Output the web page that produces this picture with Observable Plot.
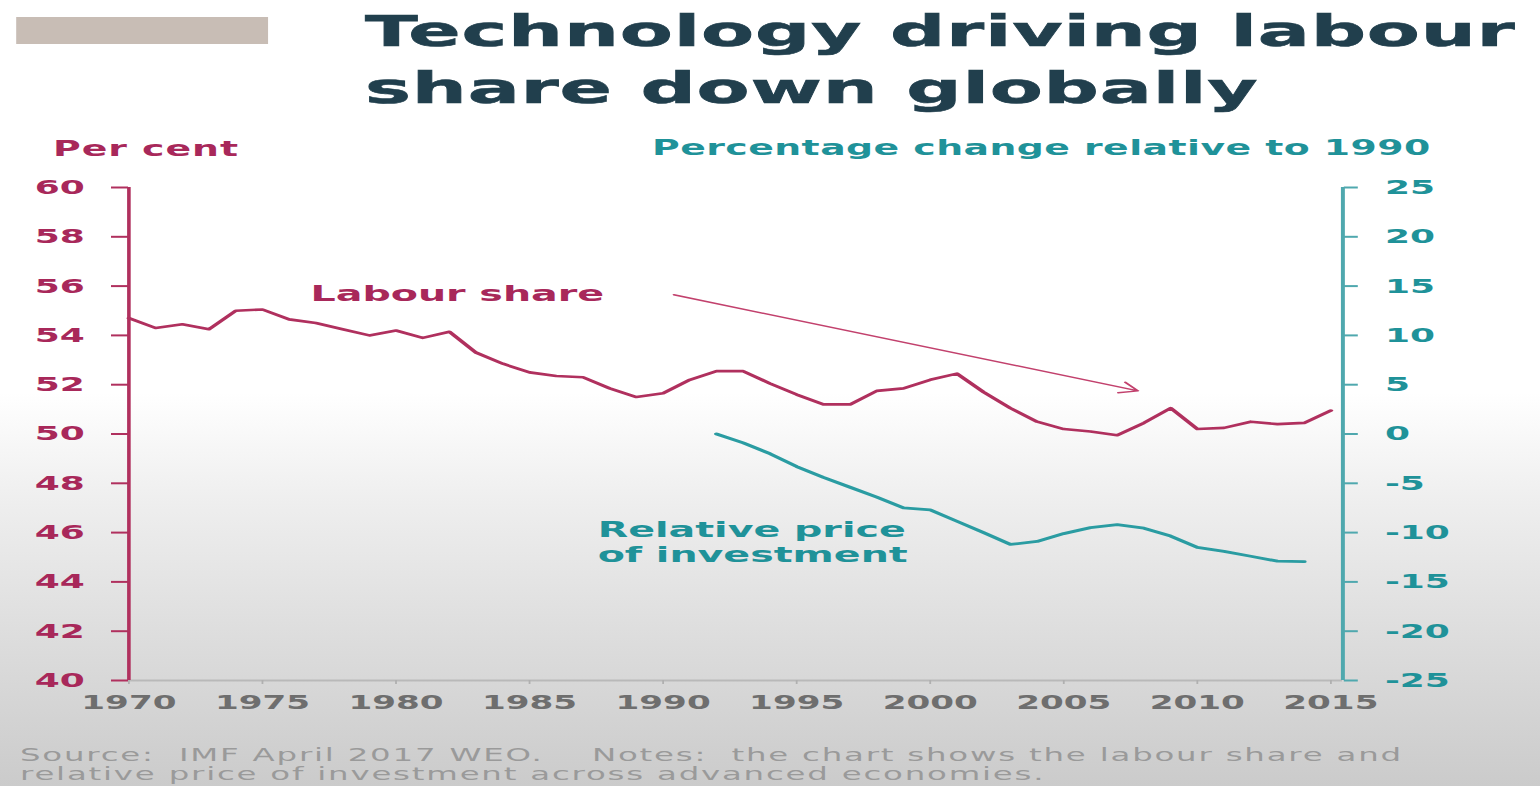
<!DOCTYPE html>
<html>
<head>
<meta charset="utf-8">
<script src="https://cdn.jsdelivr.net/npm/d3@7"></script>
<script src="https://cdn.jsdelivr.net/npm/@observablehq/plot@0.6"></script>
<style>
  html, body { margin: 0; padding: 0; width: 1540px; height: 786px; overflow: hidden; }
  body { background: linear-gradient(180deg, #ffffff 0%, #ffffff 50%, #eeeeee 64%, #dcdcdc 82%, #cbcbcb 100%); }
  #stage { position: absolute; left: 0; top: 0; height: 786px; transform-origin: 0 0; }
  .t { position: absolute; white-space: pre; line-height: 1; display: inline-block; }
</style>
</head>
<body>
<div id="stage"></div>
<script>
// ---------- data ----------
const years = [1970, 1971, 1972, 1973, 1974, 1975, 1976, 1977, 1978, 1979,
               1980, 1981, 1982, 1983, 1984, 1985, 1986, 1987, 1988, 1989,
               1990, 1991, 1992, 1993, 1994, 1995, 1996, 1997, 1998, 1999,
               2000, 2001, 2002, 2003, 2004, 2005, 2006, 2007, 2008, 2009,
               2010, 2011, 2012, 2013, 2014, 2015];
const labourShare = [54.7, 54.3, 54.45, 54.25, 55.0, 55.05, 54.65, 54.5, 54.25, 54.0,
                     54.2, 53.9, 54.15, 53.3, 52.85, 52.5, 52.35, 52.3, 51.85, 51.5,
                     51.65, 52.2, 52.55, 52.55, 52.05, 51.6, 51.2, 51.2, 51.75, 51.85,
                     52.2, 52.45, 51.7, 51.05, 50.5, 50.2, 50.1, 49.95, 50.45, 51.05,
                     50.2, 50.25, 50.5, 50.4, 50.45, 50.95];
const investYears = [1992, 1993, 1994, 1995, 1996, 1997, 1998, 1999, 2000, 2001,
                     2002, 2003, 2004, 2005, 2006, 2007, 2008, 2009, 2010, 2011,
                     2012, 2013, 2014];
const relativePrice = [0, -0.9, -2.0, -3.3, -4.4, -5.4, -6.4, -7.5, -7.7, -8.85,
                       -10.0, -11.2, -10.9, -10.1, -9.5, -9.2, -9.55, -10.35, -11.5, -11.9,
                       -12.4, -12.9, -12.95];
const xTicks = [1970, 1975, 1980, 1985, 1990, 1995, 2000, 2005, 2010, 2015];
const leftTicks = [40, 42, 44, 46, 48, 50, 52, 54, 56, 58, 60];
const rightTicks = [-25, -20, -15, -10, -5, 0, 5, 10, 15, 20, 25];
const leftDomain = [40, 60];
const rightDomain = [-25, 25];
const xDomain = [1970, 2015.45];

const titleLines = ["Technology driving labour", "share down globally"];
const leftAxisTitle = "Per cent";
const rightAxisTitle = "Percentage change relative to 1990";
const noteLines = ["Source:  IMF April 2017 WEO.    Notes:  the chart shows the labour share and",
                   "relative price of investment across advanced economies."];
const seriesLabels = ["Labour share", "Relative price\nof investment"];
const seriesLabelYear = [1976.8, 1987.55];
const seriesLabelValue = [55.69, 45.65];        // in left-axis units
const arrowFrom = [1990.4, 55.65];
const arrowTo = [2007.78, 51.75];

// ---------- layout ----------
const W = 856;                // inner width; the picture is stretched horizontally
const S = 1540 / W;
const P = v => v / S;         // page px -> inner px
const stage = document.getElementById("stage");
stage.style.width = W + "px";
stage.style.transform = `scaleX(${S})`;

const crimson = "#b0305e";
const crimsonText = "#a8285a";
const teal = "#2a9ca2";
const tealText = "#1f9299";
const tealAxis = "#4fa8ae";

const bar = document.createElement("div");
Object.assign(bar.style, {position: "absolute", left: P(17) + "px", top: "17px",
  width: P(251) + "px", height: "27px", background: "#c8bdb5"});
stage.appendChild(bar);

function addText(txt, {x, baseline, size, weight = "bold", color, family = "DejaVu Sans", width = null, spacing = null, stroke = 0}) {
  const d = document.createElement("div");
  d.className = "t";
  d.textContent = txt;
  Object.assign(d.style, {left: P(x) + "px", top: (baseline - 0.846 * size) + "px",
    fontSize: size + "px", fontWeight: weight, color, fontFamily: family});
  if (stroke) d.style.webkitTextStroke = stroke + "px " + color;
  stage.appendChild(d);
  let ls = 0;
  if (width != null) {
    const w0 = d.offsetWidth;
    ls = (P(width) - w0) / (txt.length - 1);
    d.style.letterSpacing = ls + "px";
  } else if (spacing != null) {
    ls = spacing;
    d.style.letterSpacing = ls + "px";
  }
  return ls;
}

const titleLs = addText(titleLines[0], {x: 365, baseline: 46, size: 43, color: "#213f4d", width: 1150, stroke: 0.6});
addText(titleLines[1], {x: 365, baseline: 103, size: 43, color: "#213f4d", spacing: titleLs, stroke: 0.6});
addText(leftAxisTitle, {x: 53, baseline: 157, size: 21, color: crimsonText, width: 185});
addText(rightAxisTitle, {x: 652, baseline: 156, size: 21, color: tealText, width: 778});
const noteLs = addText(noteLines[0], {x: 20, baseline: 761, size: 18, weight: "normal", color: "#9a9a9a", width: 1382});
addText(noteLines[1], {x: 20, baseline: 780, size: 18, weight: "normal", color: "#9a9a9a", spacing: noteLs});

// ---------- chart ----------
const toLeft = d3.scaleLinear(rightDomain, leftDomain);
const labourData = years.map((y, i) => ({year: y, value: labourShare[i]}));
const investData = investYears.map((y, i) => ({year: y, value: relativePrice[i]}));
const labelData = seriesLabels.map((t, i) => ({text: t, year: seriesLabelYear[i], value: seriesLabelValue[i]}));
const arrowData = [{x1: arrowFrom[0], y1: arrowFrom[1], x2: arrowTo[0], y2: arrowTo[1]}];

const chart = Plot.plot({
  width: W,
  height: 590,
  marginTop: 37,
  marginBottom: 60,
  marginLeft: P(128),
  marginRight: P(198),
  x: {domain: xDomain, axis: null},
  y: {domain: leftDomain, axis: null},
  style: {background: "transparent", fontFamily: "DejaVu Sans", overflow: "visible"},
  marks: [
    Plot.ruleY([leftDomain[0]], {stroke: "#b9b9b9", strokeWidth: 2}),
    Plot.axisX(xTicks, {tickFormat: d => String(d), tickSize: 4, tickPadding: 11,
      stroke: "#b0b0b0", fill: "#6e6e6e", fontSize: 19, fontWeight: "bold", label: null}),
    Plot.axisY(leftTicks, {anchor: "left", tickFormat: d => String(d), tickSize: P(17), tickPadding: P(27),
      stroke: crimson, strokeWidth: 2, fill: crimsonText, fontSize: 20, fontWeight: "bold", label: null}),
    Plot.axisY(rightTicks.map(toLeft), {anchor: "right", tickFormat: d => String(Math.round(toLeft.invert(d))),
      tickSize: P(14), tickPadding: P(28), stroke: tealAxis, strokeWidth: 2, fill: tealText,
      fontSize: 20, fontWeight: "bold", label: null}),
    Plot.ruleX([xDomain[0]], {stroke: crimson, strokeWidth: 2}),
    Plot.ruleX([xDomain[1]], {stroke: tealAxis, strokeWidth: 2.2}),
    Plot.lineY(labourData, {x: "year", y: "value", stroke: crimson, strokeWidth: 2.6}),
    Plot.lineY(investData, {x: "year", y: d => toLeft(d.value), stroke: teal, strokeWidth: 2.8}),
    Plot.arrow(arrowData, {x1: "x1", y1: "y1", x2: "x2", y2: "y2", stroke: "#c2416d", strokeWidth: 1.4, headLength: 12}),
    Plot.text(labelData.slice(0, 1), {x: "year", y: "value", text: "text", textAnchor: "start",
      fill: crimsonText, fontSize: 22, fontWeight: "bold"}),
    Plot.text(labelData.slice(1), {x: "year", y: "value", text: "text", textAnchor: "start",
      fill: tealText, fontSize: 22, fontWeight: "bold", lineHeight: 1.14})
  ]
});
Object.assign(chart.style, {position: "absolute", left: "0px", top: "150px"});
stage.appendChild(chart);
</script>
</body>
</html>
